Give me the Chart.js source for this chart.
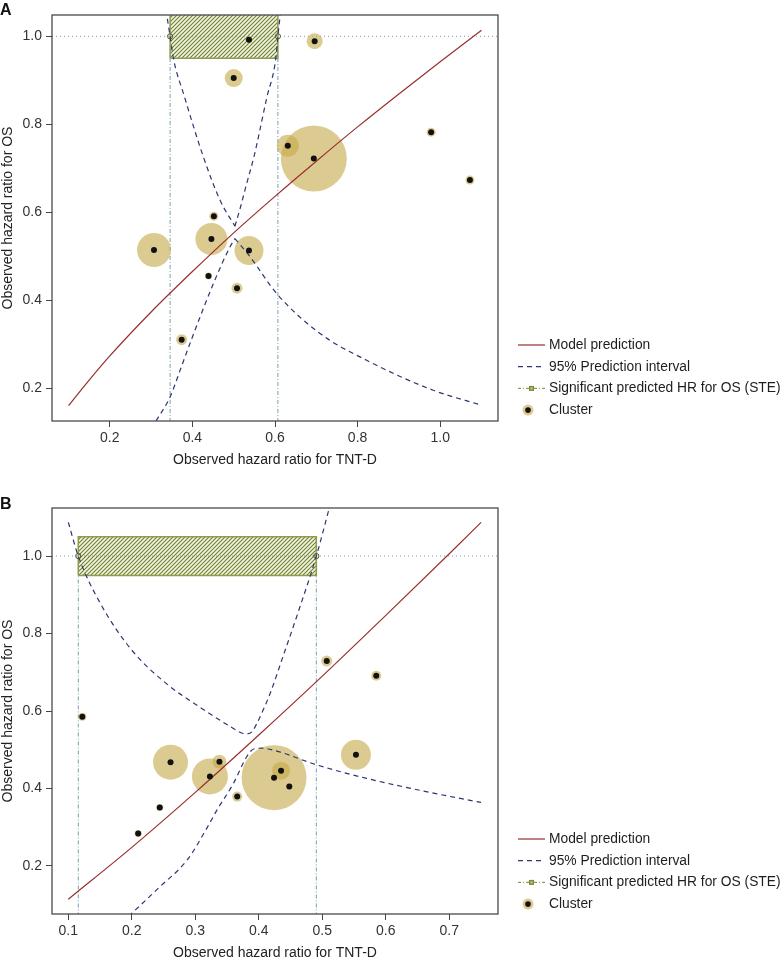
<!DOCTYPE html>
<html>
<head>
<meta charset="utf-8">
<script src="https://cdn.jsdelivr.net/npm/chart.js@4.4.0/dist/chart.umd.min.js"></script>
<style>
body { margin: 0; background: #fff; width: 781px; height: 964px; position: relative; overflow: hidden;
       font-family: "Liberation Sans", Arial, sans-serif; }
.panel { position: absolute; left: 0; width: 781px; }
#wrapA { top: 0; height: 470px; }
#wrapB { top: 470px; height: 494px; }
.tag { position: absolute; left: 0; font-weight: bold; font-size: 16px; line-height: 16px; color: #111; z-index: 2; }
</style>
</head>
<body>
<div class="tag" style="top:2px">A</div>
<div class="tag" style="top:496px">B</div>
<div class="panel" id="wrapA"><canvas id="chartA" width="781" height="470"></canvas></div>
<div class="panel" id="wrapB"><canvas id="chartB" width="781" height="494"></canvas></div>
<script>
// ---- shared ----
var legendLabels = ['Model prediction', '95% Prediction interval', 'Significant predicted HR for OS (STE)', 'Cluster'];
var xTitle = 'Observed hazard ratio for TNT-D';
var yTitle = 'Observed hazard ratio for OS';
var refHR = 1.0;
var band = [0.95, 1.05];

// ---- panel A ----
var ticksA_x = [0.2, 0.4, 0.6, 0.8, 1.0];
var ticksA_y = [0.2, 0.4, 0.6, 0.8, 1.0];
var clusterA_x = [0.537, 0.696, 0.500, 0.631, 0.694, 0.978, 1.072, 0.452, 0.446, 0.307, 0.537, 0.439, 0.508, 0.374];
var clusterA_y = [0.992, 0.989, 0.905, 0.751, 0.722, 0.782, 0.673, 0.591, 0.539, 0.514, 0.513, 0.455, 0.427, 0.310];
var clusterA_w = [3.5, 8, 9, 11, 33, 4.5, 4.5, 4.5, 16, 17, 14.5, 3.5, 5.5, 5.5];
var modelA = [[0.10, 0.160], [0.15, 0.218], [0.20, 0.273], [0.30, 0.373], [0.40, 0.465], [0.50, 0.553], [0.60, 0.636],
              [0.70, 0.716], [0.80, 0.794], [0.90, 0.869], [1.00, 0.942], [1.10, 1.014]];
var piA_upLeft = [[0.336, 1.06], [0.346, 1.0], [0.354, 0.95], [0.38, 0.865], [0.425, 0.73], [0.467, 0.627], [0.503, 0.568]];
var piA_upRight = [[0.503, 0.568], [0.516, 0.61], [0.53, 0.66], [0.55, 0.73], [0.58, 0.86], [0.602, 0.95], [0.607, 1.0], [0.614, 1.06]];
var piA_lowLeft = [[0.312, 0.125], [0.346, 0.18], [0.372, 0.245], [0.40, 0.316], [0.451, 0.438], [0.491, 0.521], [0.503, 0.540]];
var piA_lowRight = [[0.503, 0.540], [0.54, 0.498], [0.604, 0.415], [0.709, 0.324], [0.822, 0.263], [0.983, 0.195], [1.10, 0.161]];
var steA = [0.346, 0.607];

// ---- panel B ----
var ticksB_x = [0.1, 0.2, 0.3, 0.4, 0.5, 0.6, 0.7];
var ticksB_y = [0.2, 0.4, 0.6, 0.8, 1.0];
var clusterB_x = [0.122, 0.261, 0.323, 0.338, 0.244, 0.210, 0.366, 0.424, 0.435, 0.448, 0.507, 0.585, 0.553];
var clusterB_y = [0.585, 0.468, 0.431, 0.469, 0.351, 0.284, 0.379, 0.428, 0.446, 0.405, 0.729, 0.691, 0.487];
var clusterB_w = [4, 17.5, 18, 7, 3.5, 3.5, 5, 32.5, 9, 3, 5.5, 5, 15];
var modelB = [[0.10, 0.114], [0.20, 0.248], [0.30, 0.390], [0.40, 0.538], [0.50, 0.690], [0.60, 0.847], [0.70, 1.006], [0.75, 1.087]];
var piB_upper = [[0.100, 1.087], [0.1157, 1.0], [0.150, 0.879], [0.200, 0.757], [0.255, 0.670], [0.307, 0.610], [0.360, 0.555],
                 [0.372, 0.544], [0.381, 0.541], [0.389, 0.546], [0.397, 0.568], [0.407, 0.603], [0.418, 0.646], [0.439, 0.745],
                 [0.462, 0.855], [0.4906, 1.0], [0.512, 1.13]];
var piB_lower = [[0.195, 0.07], [0.244, 0.146], [0.287, 0.215], [0.318, 0.297], [0.334, 0.344], [0.360, 0.413], [0.381, 0.482],
                 [0.392, 0.502], [0.405, 0.504], [0.423, 0.499], [0.491, 0.461], [0.570, 0.426], [0.675, 0.388], [0.750, 0.364]];
var steB = [0.1157, 0.4906];

var FONT = '"Liberation Sans", Arial, sans-serif';
var colModel = '#9a2e2e', colPI = '#2c3772', colRef = '#74a2aa', colSte = '#8d9b4c';
var colCluster = 'rgba(196,168,72,0.6)';

Chart.defaults.font.family = FONT;

function hatch() {
    var c = document.createElement('canvas');
    c.width = 4; c.height = 4;
    var g = c.getContext('2d');
    g.fillStyle = '#f3f4e6';
    g.fillRect(0, 0, 4, 4);
    g.strokeStyle = '#6f8029';
    g.lineWidth = 1.1;
    g.beginPath();
    g.moveTo(0, 4); g.lineTo(4, 0);
    g.moveTo(-1, 1); g.lineTo(1, -1);
    g.moveTo(3, 5); g.lineTo(5, 3);
    g.stroke();
    return g.createPattern(c, 'repeat');
}

function pts(arr) {
    return arr.map(function (p) { return { x: p[0], y: p[1] }; });
}

function curve(arr, color, dash, width, order) {
    return {
        type: 'line', data: pts(arr), borderColor: color, borderWidth: width, borderDash: dash,
        pointRadius: 0, showLine: true, fill: false, cubicInterpolationMode: 'monotone', order: order
    };
}

function straight(arr, color, dash, order) {
    return {
        type: 'line', data: pts(arr), borderColor: color, borderWidth: 1, borderDash: dash,
        pointRadius: 0, showLine: true, fill: false, tension: 0, order: order
    };
}

// frame around the plot
var framePlugin = {
    id: 'frame',
    afterDatasetsDraw: function (chart) {
        var a = chart.chartArea, c = chart.ctx;
        c.save();
        c.strokeStyle = '#4a4a4a';
        c.lineWidth = 1.3;
        c.strokeRect(a.left, a.top, a.right - a.left, a.bottom - a.top);
        c.restore();
    }
};

// legend to the right of the plot
var sideLegend = {
    id: 'sideLegend',
    afterDraw: function (chart, args, opts) {
        var ctx = chart.ctx, x0 = 518, x1 = 545;
        ctx.save();
        legendLabels.forEach(function (label, i) {
            var y = opts.top + i * 21.7;
            ctx.lineWidth = 1.2;
            ctx.setLineDash([]);
            if (i === 0) {
                ctx.strokeStyle = colModel;
                ctx.beginPath(); ctx.moveTo(x0, y); ctx.lineTo(x1, y); ctx.stroke();
            } else if (i === 1) {
                ctx.strokeStyle = colPI;
                ctx.setLineDash([5, 4]);
                ctx.beginPath(); ctx.moveTo(x0, y); ctx.lineTo(x1, y); ctx.stroke();
            } else if (i === 2) {
                ctx.strokeStyle = '#8ea64a';
                ctx.setLineDash([3, 2, 1, 2]);
                ctx.beginPath(); ctx.moveTo(x0, y); ctx.lineTo(x1, y); ctx.stroke();
                ctx.setLineDash([]);
                ctx.fillStyle = '#7d8a3c';
                ctx.fillRect(529, y - 2.5, 5, 5);
                ctx.fillStyle = '#c9d29a';
                ctx.fillRect(530.5, y - 1, 2, 2);
            } else {
                ctx.fillStyle = colCluster;
                ctx.beginPath(); ctx.arc(528, y, 5.5, 0, Math.PI * 2); ctx.fill();
                ctx.fillStyle = '#111';
                ctx.beginPath(); ctx.arc(528, y, 2.8, 0, Math.PI * 2); ctx.fill();
            }
            ctx.fillStyle = '#1e1e1e';
            ctx.font = '13.8px ' + FONT;
            ctx.textBaseline = 'middle';
            ctx.textAlign = 'left';
            ctx.fillText(label, 549, y);
        });
        ctx.restore();
    }
};

function makeChart(id, p) {
    var clusters = p.cx.map(function (x, i) { return { x: x, y: p.cy[i], r: p.cw[i] }; });
    var dots = p.cx.map(function (x, i) { return { x: x, y: p.cy[i] }; });
    var boxPts = [[p.ste[0], band[0]], [p.ste[0], band[1]], [p.ste[1], band[1]], [p.ste[1], band[0]], [p.ste[0], band[0]]];

    var datasets = [
        { type: 'line', data: dots, showLine: false, pointRadius: 3, pointBackgroundColor: '#111',
          pointBorderWidth: 0, order: 0 },
        { type: 'line', data: pts([[p.ste[0], refHR], [p.ste[1], refHR]]), showLine: false, pointRadius: 2.6,
          pointBackgroundColor: 'rgba(255,255,255,0)', pointBorderColor: '#4d5234', pointBorderWidth: 1, order: 1 },
        curve(p.model, colModel, [], 1.2, 2)
    ];
    p.pi.forEach(function (arr) { datasets.push(curve(arr, colPI, [5, 4], 1.2, 3)); });
    datasets.push({ type: 'bubble', data: clusters, backgroundColor: colCluster, borderWidth: 0, order: 4 });
    datasets.push(straight([[p.xMin, refHR], [p.xMax, refHR]], colRef, [1, 3], 5));
    datasets.push(straight([[p.ste[0], 0], [p.ste[0], band[0]]], colRef, [4, 2, 1, 2], 5));
    datasets.push(straight([[p.ste[1], 0], [p.ste[1], band[0]]], colRef, [4, 2, 1, 2], 5));
    datasets.push({ type: 'line', data: pts(boxPts), borderColor: colSte, borderWidth: 1.5, pointRadius: 0,
                    showLine: true, tension: 0, fill: 'shape', backgroundColor: hatch(), order: 6 });

    var tickFont = { size: 14, family: FONT };
    return new Chart(document.getElementById(id), {
        type: 'line',
        data: { datasets: datasets },
        plugins: [framePlugin, sideLegend],
        options: {
            responsive: false,
            animation: false,
            events: [],
            devicePixelRatio: 1,
            layout: { autoPadding: false, padding: { left: 0, right: 283, top: p.padTop, bottom: p.padBottom } },
            plugins: {
                legend: { display: false },
                tooltip: { enabled: false },
                sideLegend: { top: p.legendTop }
            },
            scales: {
                x: {
                    type: 'linear', min: p.xMin, max: p.xMax,
                    afterBuildTicks: function (s) { s.ticks = p.xt.map(function (v) { return { value: v }; }); },
                    afterFit: function (s) { s.height = 48; },
                    grid: { drawOnChartArea: false, drawTicks: true, tickLength: 6, color: '#444' },
                    border: { display: false },
                    ticks: { padding: 3, color: '#333', font: tickFont, maxRotation: 0, autoSkip: false,
                             callback: function (v) { return Number(v).toFixed(1); } },
                    title: { display: true, text: xTitle, color: '#222', font: tickFont, padding: 0 }
                },
                y: {
                    type: 'linear', min: p.yMin, max: p.yMax,
                    afterBuildTicks: function (s) { s.ticks = p.yt.map(function (v) { return { value: v }; }); },
                    afterFit: function (s) { s.width = 52; },
                    grid: { drawOnChartArea: false, drawTicks: true, tickLength: 6, color: '#444' },
                    border: { display: false },
                    ticks: { padding: 4, color: '#333', font: tickFont, autoSkip: false,
                             callback: function (v) { return Number(v).toFixed(1); } },
                    title: { display: true, text: yTitle, color: '#222', font: tickFont, padding: 0 }
                }
            }
        }
    });
}

makeChart('chartA', {
    cx: clusterA_x, cy: clusterA_y, cw: clusterA_w, model: modelA,
    pi: [piA_upLeft, piA_upRight, piA_lowLeft, piA_lowRight], ste: steA,
    xt: ticksA_x, yt: ticksA_y, xMin: 0.06, xMax: 1.14, yMin: 0.125, yMax: 1.0485,
    padTop: 15, padBottom: 1, legendTop: 345
});

makeChart('chartB', {
    cx: clusterB_x, cy: clusterB_y, cw: clusterB_w, model: modelB,
    pi: [piB_upper, piB_lower], ste: steB,
    xt: ticksB_x, yt: ticksB_y, xMin: 0.0743, xMax: 0.7767, yMin: 0.076, yMax: 1.124,
    padTop: 38, padBottom: 2, legendTop: 369
});
</script>
</body>
</html>
